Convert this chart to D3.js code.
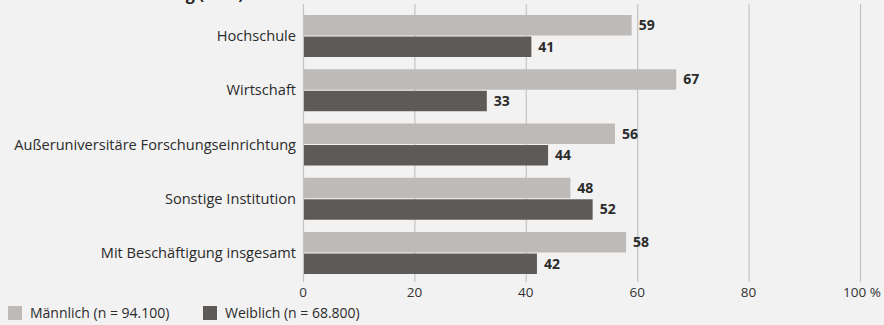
<!DOCTYPE html>
<html>
<head>
<meta charset="utf-8">
<script src="https://cdn.jsdelivr.net/npm/d3@7"></script>
<style>
  body { margin: 0; background: #f2f2f2; }
  svg { display: block; font-family: "Open Sans", sans-serif; }
</style>
</head>
<body>
<script>
var categories = ["Hochschule", "Wirtschaft", "Außeruniversitäre Forschungseinrichtung", "Sonstige Institution", "Mit Beschäftigung insgesamt"];
var maennlich = [59, 67, 56, 48, 58];
var weiblich = [41, 33, 44, 52, 42];
var series = ["Männlich (n = 94.100)", "Weiblich (n = 68.800)"];
var ticks = [0, 20, 40, 60, 80, 100];

var colors = ["#bebab8", "#5e5a57"];

var svg = d3.select("body").append("svg")
  .attr("width", 884)
  .attr("height", 325);

svg.append("rect")
  .attr("width", 884)
  .attr("height", 325)
  .style("fill", "#f2f2f2");

// title sits mostly above the visible area, as in the original
svg.append("text")
  .attr("x", 42)
  .attr("y", 0)
  .style("font-weight", "bold")
  .style("font-size", "16px")
  .style("fill", "#222")
  .text("Art der Einrichtung (in %)");

var x = d3.scaleLinear().domain([0, 100]).range([303, 860]);

var y = d3.scaleBand()
  .domain(categories)
  .range([15, 274])
  .paddingInner(0.226)
  .paddingOuter(0);

var sub = d3.scaleBand()
  .domain([0, 1])
  .range([0, y.bandwidth()])
  .paddingInner(0.05);

// grid lines
svg.append("g")
  .selectAll("line")
  .data(ticks)
  .join("line")
  .attr("x1", d => x(d) + 0.5)
  .attr("x2", d => x(d) + 0.5)
  .attr("y1", 4)
  .attr("y2", 282)
  .style("stroke", "#c4c4c4")
  .style("stroke-width", 1.2);

// tick labels
svg.append("g")
  .selectAll("text")
  .data(ticks)
  .join("text")
  .attr("x", d => d == 100 ? x(d) - 17 : x(d))
  .attr("y", 297)
  .attr("text-anchor", d => d == 100 ? "start" : "middle")
  .style("font-size", "13.5px")
  .style("fill", "#333")
  .text(d => d == 100 ? "100 %" : d);

// category labels
svg.append("g")
  .selectAll("text")
  .data(categories)
  .join("text")
  .attr("x", 296)
  .attr("y", d => y(d) + y.bandwidth() / 2)
  .attr("dy", "0.35em")
  .attr("text-anchor", "end")
  .style("font-size", "14.6px")
  .style("fill", "#2b2b2b")
  .text(d => d);

var rows = categories.map((c, i) => ({ cat: c, vals: [maennlich[i], weiblich[i]] }));

var group = svg.append("g").selectAll("g")
  .data(rows)
  .join("g")
  .attr("transform", d => "translate(0," + y(d.cat) + ")");

group.selectAll("rect")
  .data(d => d.vals)
  .join("rect")
  .attr("x", x(0) + 1)
  .attr("y", (d, i) => sub(i))
  .attr("width", d => x(d) - x(0) - 1)
  .attr("height", sub.bandwidth())
  .style("fill", (d, i) => colors[i]);

group.selectAll("text")
  .data(d => d.vals)
  .join("text")
  .attr("x", d => x(d) + 7)
  .attr("y", (d, i) => sub(i) + sub.bandwidth() / 2)
  .attr("dy", "0.35em")
  .style("font-size", "14px")
  .style("font-weight", "bold")
  .style("fill", "#2b2b2b")
  .text(d => d);

// legend
var legend = svg.append("g").selectAll("g")
  .data(series)
  .join("g")
  .attr("transform", (d, i) => "translate(" + [8 + i * 195, 306] + ")");

legend.append("rect")
  .attr("width", 14)
  .attr("height", 14)
  .style("fill", (d, i) => colors[i]);

legend.append("text")
  .attr("x", 22)
  .attr("y", 7)
  .attr("dy", "0.35em")
  .style("font-size", "14px")
  .style("fill", "#2b2b2b")
  .text(d => d);
</script>
</body>
</html>
